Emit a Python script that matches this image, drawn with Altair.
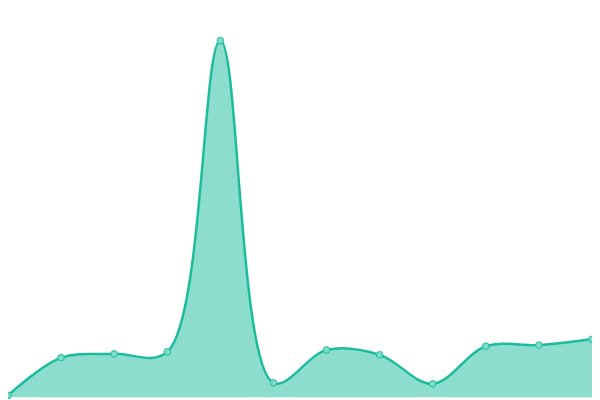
import altair as alt
import pandas as pd

x_idx = [0, 1, 2, 3, 4, 5, 6, 7, 8, 9, 10, 11]
values = [0.5, 10.25, 11.25, 11.75, 92.25, 3.75, 12.25, 11.0, 3.5, 13.25, 13.5, 15.0]

df = pd.DataFrame({"x": x_idx, "v": values})

xs = alt.Scale(domain=[0, 11], nice=False, zero=False)
ys = alt.Scale(domain=[0, 100], nice=False)

base = alt.Chart(df).encode(
    x=alt.X("x:Q", scale=xs, axis=None),
    y=alt.Y("v:Q", scale=ys, axis=None),
)

area = base.mark_area(
    interpolate="catmull-rom",
    color="#1abc9c",
    fillOpacity=0.5,
    line={"color": "#1abc9c", "strokeWidth": 2.5},
    clip=False,
)

points = base.mark_point(
    filled=True,
    size=45,
    fill="#7edbc8",
    stroke="#1abc9c",
    strokeWidth=1,
    opacity=1,
    clip=False,
)

chart = (
    alt.layer(area, points)
    .properties(width=592, height=392, padding=0, autosize=alt.AutoSizeParams(type="none"))
    .configure_view(stroke=None)
)

chart.save("out.html", embed_options={"renderer": "svg", "actions": False})
